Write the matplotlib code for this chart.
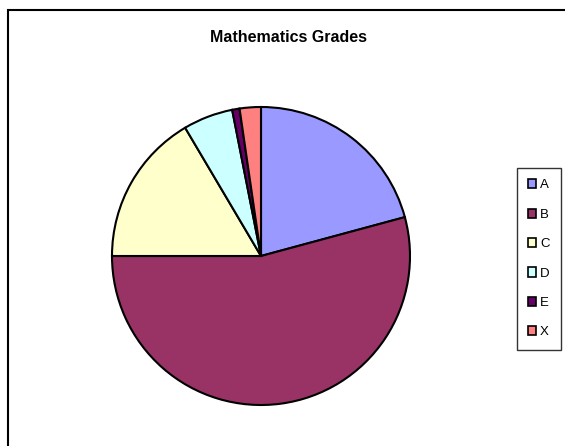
import matplotlib.pyplot as plt
from matplotlib.patches import Rectangle, Patch

plt.rcParams['font.family'] = ['Liberation Sans', 'DejaVu Sans']

# Datos del gráfico
grades = ['A', 'B', 'C', 'D', 'E', 'X']
shares = [20.8, 54.2, 16.5, 5.4, 0.8, 2.3]
colors = ['#9999FF', '#993366', '#FFFFCC', '#CCFFFF', '#660066', '#FF8080']

W, H = 565, 446
fig = plt.figure(figsize=(W / 100, H / 100), dpi=100)

# Marco exterior
fig.patches.append(Rectangle((8 / W, -0.1), 1.2, 1.1 - 10 / H, transform=fig.transFigure,
                             fill=False, edgecolor='black', linewidth=1.5))

# Pastel: centro (261, 256), radio 149 px
cx, cy, r = 261, 256, 149
ax = fig.add_axes([(cx - r) / W, (H - cy - r) / H, 2 * r / W, 2 * r / H])
ax.pie(shares, colors=colors, startangle=90, counterclock=False,
       wedgeprops=dict(edgecolor='black', linewidth=1.5))
ax.set_xlim(-1, 1)
ax.set_ylim(-1, 1)
ax.set_aspect('auto')
ax.axis('off')

fig.text(289 / W, 1 - 37 / H, 'Mathematics Grades', ha='center', va='center',
         fontsize=11.5, fontweight='bold')

# Leyenda
handles = [Patch(facecolor=c, edgecolor='black', linewidth=1.2) for c in colors]
leg = fig.legend(handles, grades, loc='upper left',
                 bbox_to_anchor=(517 / W, 1 - 168 / H), fontsize=9.5,
                 frameon=True, fancybox=False, handlelength=0.6, handleheight=0.7,
                 handletextpad=0.3, labelspacing=1.3, borderpad=0.85,
                 borderaxespad=0)
leg.get_frame().set_edgecolor('black')
leg.get_frame().set_linewidth(1)

plt.savefig('out.png', dpi=100)
